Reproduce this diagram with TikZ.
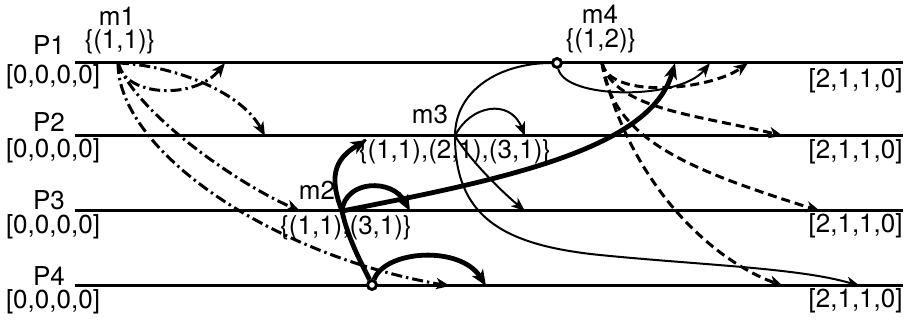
\documentclass[tikz,border=0pt]{standalone}
\usepackage{fontspec}
\setmainfont{TeX Gyre Heros}
\usetikzlibrary{arrows.meta}
\begin{document}
\begin{tikzpicture}[x=0.5pt,y=-0.5pt,
  proc/.style={line width=1.5pt},
  lbl/.style={inner sep=0pt,font=\fontsize{13}{15}\selectfont},
  ddot/.style={line width=1.5pt,dash pattern=on 5.5pt off 2pt on 1.2pt off 2pt,-{Stealth[length=7pt,width=5.6pt,inset=2pt]}},
  dsh/.style={line width=1.5pt,dash pattern=on 4.5pt off 2.5pt,-{Stealth[length=7pt,width=5.6pt,inset=2pt]}},
  mthin/.style={line width=1pt,-{Stealth[length=7pt,width=5.4pt,inset=2pt]}},
  mthick/.style={line width=2.4pt,-{Stealth[length=8pt,width=6.5pt,inset=2.2pt]}},
  evt/.style={circle,draw,fill=white,line width=1.4pt,minimum size=4.4pt,inner sep=0pt},
]
\useasboundingbox (0,0) rectangle (904,325);
% process lines
\coordinate (p1a) at (75,63);  \coordinate (p1b) at (903,63);
\coordinate (p2a) at (75,136); \coordinate (p2b) at (903,136);
\coordinate (p3a) at (75,211); \coordinate (p3b) at (903,211);
\coordinate (p4a) at (75,286); \coordinate (p4b) at (903,286);
\draw[proc] (p1a) -- (p1b);
\draw[proc] (p2a) -- (p2b);
\draw[proc] (p3a) -- (p3b);
\draw[proc] (p4a) -- (p4b);
% event points
\coordinate (m1s) at (118,63);
\coordinate (m2s) at (342,211);
\coordinate (m3s) at (455,136);
\coordinate (m4s) at (602,63);
% targets
\coordinate (m1t1) at (225,63);
\coordinate (m1t2) at (265,136);
\coordinate (m1t3) at (300,211);
\coordinate (m1t4) at (450,286);
\coordinate (m2t1) at (675,63);
\coordinate (m2t2) at (367,140);
\coordinate (m2t3) at (410,211);
\coordinate (m2t4) at (486,286);
\coordinate (m3t2) at (525,136);
\coordinate (m3t3) at (525,211);
\coordinate (m3mid) at (600,255);
\coordinate (m3t4) at (860,286);
\coordinate (m4t0) at (710,63);
\coordinate (m4t1) at (748,63);
\coordinate (m4t2) at (783,136);
\coordinate (m4t3) at (820,211);
\coordinate (m4t4) at (783,286);
% delayed-receive circles
\node[evt] (c1) at (557,63) {};
\node[evt] (c4) at (372,285) {};
% m1 (dash-dot)
\draw[ddot] (m1s) .. controls (125,97) and (195,100) .. (m1t1);
\draw[ddot] (m1s) .. controls (170,65) and (240,90) .. (m1t2);
\draw[ddot] (m1s) .. controls (135,110) and (230,180) .. (m1t3);
\draw[ddot] (m1s) .. controls (118,150) and (270,255) .. (m1t4);
% m2 (thick)
\draw[mthick] (m2s) .. controls (330,180) and (332,160) .. (m2t2);
\draw[mthick] (m2s) .. controls (345,180) and (392,178) .. (m2t3);
\draw[mthick] (m2s) .. controls (500,180) and (650,150) .. (m2t1);
\draw[line width=2.4pt] (m2s) .. controls (348,240) and (365,270) .. (c4);
\draw[mthick] (c4) .. controls (385,250) and (460,245) .. (m2t4);
% m3 (thin)
\draw[mthin] (m3s) .. controls (470,105) and (510,98) .. (m3t2);
\draw[mthin] (m3s) .. controls (470,160) and (500,190) .. (m3t3);
\draw[line width=1pt] (m3s) .. controls (455,90) and (500,63) .. (c1);
\draw[mthin] (m3s) .. controls (455,215) and (500,245) .. (m3mid) .. controls (700,265) and (800,268) .. (m3t4);
% m4
\draw[mthin] (c1) .. controls (565,100) and (680,100) .. (m4t0);
\draw[dsh] (m4s) .. controls (610,100) and (710,90) .. (m4t1);
\draw[dsh] (m4s) .. controls (615,110) and (700,115) .. (m4t2);
\draw[dsh] (m4s) .. controls (612,140) and (690,170) .. (m4t3);
\draw[dsh] (m4s) .. controls (625,170) and (700,255) .. (m4t4);
% redraw circles on top
\node[evt] at (c1) {};
\node[evt] at (c4) {};
% labels
\node[lbl] (n1) at (49,45) {P1};
\node[lbl] (n2) at (49,122) {P2};
\node[lbl] (n3) at (49,200) {P3};
\node[lbl] (n4) at (49,276) {P4};
\node[lbl] (v1) at (53,77) {[0,0,0,0]};
\node[lbl] (v2) at (53,151) {[0,0,0,0]};
\node[lbl] (v3) at (53,227) {[0,0,0,0]};
\node[lbl] (v4) at (53,302) {[0,0,0,0]};
\node[lbl,anchor=east] (w1) at (903,81) {[2,1,1,0]};
\node[lbl,anchor=east] (w2) at (903,152) {[2,1,1,0]};
\node[lbl,anchor=east] (w3) at (903,226) {[2,1,1,0]};
\node[lbl,anchor=east] (w4) at (903,301) {[2,1,1,0]};
\node[lbl] (lm1) at (117,16) {m1};
\node[lbl] (dm1) at (120,42) {\{(1,1)\}};
\node[lbl] (lm2) at (317,190) {m2};
\node[lbl] (dm2) at (346,228) {\{(1,1),(3,1)\}};
\node[lbl] (lm3) at (430,114) {m3};
\node[lbl] (dm3) at (455,152) {\{(1,1),(2,1),(3,1)\}};
\node[lbl] (lm4) at (600,14) {m4};
\node[lbl] (dm4) at (601,41) {\{(1,2)\}};
\end{tikzpicture}
\end{document}
